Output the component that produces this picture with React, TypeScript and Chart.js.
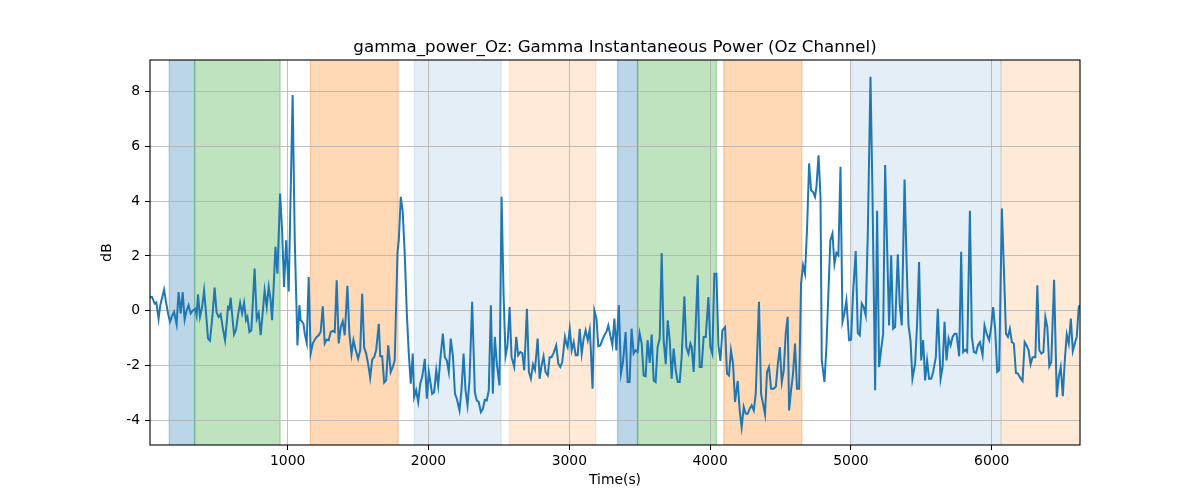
import React, { useEffect, useRef } from "react";
import { Chart, registerables } from "chart.js";

Chart.register(...registerables);

const TITLE = "gamma_power_Oz: Gamma Instantaneous Power (Oz Channel)";
const X_LABEL = "Time(s)";
const Y_LABEL = "dB";
const X_TICKS = [1000, 2000, 3000, 4000, 5000, 6000];
const Y_TICKS = [-4, -2, 0, 2, 4, 6, 8];
const Y_MIN = -4.91;
const Y_MAX = 9.16;

const TIMES = [
  22, 36, 55, 67, 83, 95, 122, 136, 150, 164, 178, 193, 211, 225, 240, 254, 268, 282, 296, 311, 325, 344, 353, 363, 377, 392, 406, 420, 434, 448, 467, 481, 495, 510, 524, 538, 555, 566, 576, 586, 595, 609, 619, 633, 647, 662, 676, 690, 704, 714, 728, 742,
  765, 780, 794, 808, 822, 836, 851, 865, 879, 889, 898, 913, 927, 946, 960, 974, 989, 1007, 1035, 1050, 1060, 1069, 1083, 1092, 1102, 1112, 1121, 1135, 1149, 1163, 1178, 1192, 1206, 1220, 1234, 1249, 1263, 1277, 1291, 1306, 1320, 1334, 1348, 1362, 1377, 1391, 1405, 1424, 1438, 1453, 1467, 1481,
  1500, 1515, 1529, 1543, 1557, 1571, 1586, 1600, 1614, 1628, 1647, 1657, 1671, 1685, 1699, 1714, 1732, 1746, 1760, 1780, 1789, 1803, 1817, 1831, 1846, 1860, 1874, 1888, 1898, 1912, 1927, 1941, 1955, 1974, 1988, 2002, 2026, 2040, 2055, 2069, 2083, 2102, 2116, 2130, 2144, 2158, 2174, 2188, 2201, 2220,
  2234, 2249, 2263, 2277, 2291, 2310, 2329, 2343, 2357, 2372, 2386, 2400, 2414, 2428, 2443, 2457, 2471, 2485, 2504, 2519, 2533, 2547, 2561, 2576, 2590, 2609, 2623, 2637, 2652, 2666, 2680, 2699, 2713, 2727, 2742, 2756, 2775, 2789, 2803, 2817, 2831, 2847, 2860, 2874, 2888, 2907, 2922, 2936, 2950, 2969,
  2979, 2988, 3003, 3017, 3031, 3045, 3059, 3074, 3088, 3102, 3116, 3131, 3145, 3153, 3165, 3178, 3193, 3206, 3220, 3234, 3249, 3263, 3277, 3291, 3306, 3320, 3334, 3352, 3367, 3381, 3400, 3414, 3428, 3442, 3457, 3471, 3485, 3499, 3514, 3528, 3542, 3556, 3571, 3585, 3599, 3613, 3627, 3642, 3656, 3670, 3685, 3699,
  3713, 3727, 3741, 3756, 3770, 3784, 3798, 3817, 3831, 3846, 3860, 3869, 3883, 3898, 3912, 3926, 3940, 3954, 3969, 3988, 4002, 4016, 4030, 4045, 4059, 4073, 4087, 4106, 4120, 4134, 4148, 4163, 4177, 4196, 4210, 4224, 4239, 4253, 4267, 4281, 4295, 4310, 4324, 4347, 4362, 4376, 4390, 4404, 4418, 4433,
  4452, 4467, 4480, 4495, 4509, 4523, 4537, 4551, 4561, 4575, 4589, 4603, 4617, 4632, 4646, 4660, 4674, 4689, 4703, 4717, 4731, 4745, 4755, 4770, 4784, 4793, 4812, 4826, 4840, 4854, 4869, 4883, 4897, 4911, 4926, 4940, 4954, 4968, 4987, 5001, 5015, 5034, 5049, 5063, 5077, 5091, 5105, 5120, 5139, 5153, 5172, 5186,
  5200, 5214, 5229, 5243, 5257, 5271, 5286, 5300, 5314, 5333, 5347, 5361, 5381, 5395, 5409, 5423, 5437, 5456, 5470, 5484, 5499, 5513, 5527, 5541, 5555, 5570, 5584, 5603, 5617, 5637, 5651, 5665, 5679, 5694, 5708, 5722, 5736, 5750, 5769, 5783, 5797, 5812, 5826, 5845, 5859, 5873, 5888, 5902, 5916,
  5935, 5949, 5964, 5982, 5996, 6010, 6025, 6039, 6053, 6072, 6086, 6101, 6115, 6129, 6143, 6157, 6172, 6186, 6200, 6219, 6234, 6248, 6262, 6276, 6290, 6310, 6324, 6338, 6352, 6367, 6381, 6395, 6409, 6423, 6443, 6462, 6476, 6490, 6505, 6519, 6533, 6547, 6562, 6576, 6590, 6604, 6618, 6627,
];

const VALUES = [
  0.5, 0.5, 0.26, 0.3, -0.3, 0.2, 0.77, 0.3, -0.1, -0.41, -0.2, -0.05, -0.5, 0.68, -0.1, 0.68, -0.33, 0.0, 0.2, -0.1, 0.0, 0.07, -0.17, 0.6, -0.23, 0.13, 0.74, -0.1, -1.02, -1.1, -0.1, 0.84, -0.07, -0.23, -0.13, -0.6, -1.08, -0.48, 0.13, 0.07, 0.48, -0.35, -0.87, -0.7, -0.17, 0.28, -0.1, 0.29, -0.35, -0.23, -0.78, -0.72,
  1.54, -0.3, -0.1, -0.9, -0.1, 0.74, 0.13, 0.87, 0.38, -0.35, 0.62, 2.33, 1.35, 4.28, 2.94, 0.87, 2.57, 0.7, 7.88, 2.57, 0.62, -1.27, 0.2, -0.35, -0.41, -0.48, -0.84, -1.18, 1.23, -1.57, -1.2, -1.06, -0.96, -0.9, -0.78, 0.16, -1.2, -1.06, -1.08, -0.78, -0.74, -0.78, 1.11, -1.2, -0.6, -0.39, -0.9, 0.91, -0.84, -1.6, -1.08, -1.4,
  -1.76, -1.45, 0.62, -1.35, -1.57, -1.94, -2.45, -1.79, -1.7, -1.45, -0.48, -1.67, -1.67, -2.63, -2.55, -1.27, -2.24, -2.06, -1.82, 2.15, 2.57, 4.16, 3.61, 2.09, -0.1, -1.57, -2.67, -1.57, -3.16, -2.91, -3.34, -2.67, -2.43, -1.76, -3.22, -2.24, -3.04, -2.98, -2.18, -2.73, -1.82, -0.84, -1.7, -1.82, -2.24, -1.02, -1.7, -3.04, -3.22, -3.65,
  -2.91, -1.57, -2.91, -3.46, -2.55, 0.32, -2.98, -3.28, -3.34, -3.71, -3.59, -3.26, -3.28, -2.91, 0.2, -3.04, -0.96, -1.94, -2.73, 4.16, 0.62, -1.67, -1.27, 0.13, -1.7, -2.06, -0.96, -1.63, -1.51, -1.55, -2.18, 0.07, -2.24, -2.49, -1.96, -2.16, -1.02, -2.49, -2.0, -1.67, -2.24, -2.37, -1.7, -1.7, -1.55, -1.27, -1.94, -2.06, -1.88, -0.96,
  -1.2, -1.33, -0.66, -1.45, -1.15, -1.63, -1.63, -0.66, -1.57, -1.02, -0.72, -1.08, -0.7, -1.45, -2.85, 0.01, -0.29, -1.3, -1.27, -1.08, -0.9, -0.78, -0.54, -0.9, -1.27, -0.29, -1.45, 0.2, -2.3, -1.88, -0.78, -2.61, -2.61, -0.66, -1.57, -1.45, -1.51, -0.82, -1.2, -2.37, -2.4, -1.08, -1.91, -0.87, -2.55, -2.61, -1.33, -1.02, 2.11, -1.08, -1.96, -0.35,
  -1.08, -2.49, -1.39, -2.18, -2.61, -2.61, -1.7, 0.52, -1.33, -1.57, -1.2, -1.33, -2.24, -0.48, 1.29, -2.06, -2.06, -0.96, -0.96, 0.5, -1.33, -1.57, 1.35, 1.35, -1.27, -1.84, -0.72, -0.6, -2.3, -2.37, -1.45, -1.94, -3.34, -2.57, -3.65, -4.26, -3.52, -3.77, -3.77, -3.59, -3.46, -3.65, -3.04, 0.32, -3.04, -3.4, -3.79, -2.24, -2.06, -2.85,
  -2.85, -2.77, -2.0, -1.33, -2.61, -2.18, -0.84, -0.23, -3.65, -2.91, -2.3, -1.2, -2.85, -2.85, 0.99, 1.66, 1.35, 3.06, 5.38, 4.4, 4.34, 4.16, 4.52, 5.68, 4.16, -1.82, -2.61, -1.33, 0.62, 2.57, 2.82, 1.7, 2.11, 2.02, 5.26, -0.41, -0.1, 0.38, -1.08, -1.06, 0.62, 2.18, -0.82, -0.9, 0.26, 0.13, -0.17, 2.82, 8.55, 4.28, -2.91, 3.65,
  -2.06, -1.45, -0.84, 5.32, 2.33, -0.54, 2.02, -0.66, -0.6, 2.06, 0.2, -0.54, 4.79, 1.84, -0.54, -1.08, -2.49, -1.94, -0.48, 1.78, -1.82, -1.08, -2.55, -1.82, -2.49, -2.49, -2.24, -1.7, 0.07, -2.49, -2.06, -0.41, -1.82, -1.02, -1.27, -0.96, -0.84, -0.84, -1.67, 2.15, -1.51, -1.43, -1.51, 3.65, -0.96, -1.51, -1.55, -1.27, -1.15,
  -1.63, -0.54, -0.84, -1.08, -0.6, 0.13, -0.72, -2.24, -2.18, 3.73, 1.6, -0.84, -0.96, -0.66, -1.15, -1.2, -2.28, -2.3, -2.43, -2.57, -1.15, -1.27, -1.45, -1.96, -1.7, -1.7, 0.93, -1.45, -1.57, -1.51, -0.23, -0.6, -2.04, -1.88, 1.13, -3.16, -2.43, -2.06, -3.13, -1.82, -0.87, -1.2, -0.29, -1.48, -1.2, -0.96, 0.13, 0.2,
];

const SPAN_STARTS = [159, 339, 1161, 1900, 2576, 3343, 3485, 4097, 5006, 6067];
const SPAN_ENDS = [339, 946, 1784, 2516, 3187, 3485, 4045, 4651, 6067, 6700];
const SPAN_COLORS = [
  "rgba(31,119,180,0.3)",
  "rgba(44,160,44,0.3)",
  "rgba(255,127,14,0.3)",
  "rgba(31,119,180,0.12)",
  "rgba(255,127,14,0.16)",
  "rgba(31,119,180,0.3)",
  "rgba(44,160,44,0.3)",
  "rgba(255,127,14,0.3)",
  "rgba(31,119,180,0.12)",
  "rgba(255,127,14,0.16)",
];

const FONT = "'DejaVu Sans', sans-serif";

const spansPlugin = {
  id: "spans",
  beforeDraw(chart: any) {
    const { ctx, chartArea, scales } = chart;
    const x = scales.x;
    const h = chartArea.bottom - chartArea.top;
    ctx.save();
    ctx.beginPath();
    ctx.rect(chartArea.left, chartArea.top, chartArea.right - chartArea.left, h);
    ctx.clip();
    SPAN_STARTS.forEach((s, i) => {
      const x0 = x.getPixelForValue(s);
      const x1 = x.getPixelForValue(SPAN_ENDS[i]);
      ctx.fillStyle = SPAN_COLORS[i];
      ctx.fillRect(x0, chartArea.top, x1 - x0, h);
      ctx.strokeStyle = SPAN_COLORS[i];
      ctx.lineWidth = 1.4;
      ctx.beginPath();
      ctx.moveTo(x0, chartArea.top);
      ctx.lineTo(x0, chartArea.bottom);
      ctx.moveTo(x1, chartArea.top);
      ctx.lineTo(x1, chartArea.bottom);
      ctx.stroke();
    });
    ctx.restore();
  },
  afterDraw(chart: any) {
    const { ctx, chartArea } = chart;
    ctx.save();
    ctx.strokeStyle = "#000";
    ctx.lineWidth = 1.1;
    ctx.strokeRect(
      chartArea.left,
      chartArea.top,
      chartArea.right - chartArea.left,
      chartArea.bottom - chartArea.top
    );
    ctx.fillStyle = "#000";
    ctx.font = `16.67px ${FONT}`;
    ctx.textAlign = "center";
    ctx.textBaseline = "alphabetic";
    ctx.fillText(TITLE, (chartArea.left + chartArea.right) / 2, chartArea.top - 8.3);
    ctx.restore();
  },
};

export default function App() {
  const ref = useRef<HTMLCanvasElement | null>(null);

  useEffect(() => {
    if (!ref.current) return;
    const data = TIMES.map((t, i) => ({ x: t, y: VALUES[i] }));
    const chart = new Chart(ref.current, {
      type: "line",
      data: {
        datasets: [
          {
            data,
            borderColor: "#1f77b4",
            borderWidth: 2,
            pointRadius: 0,
            tension: 0,
            fill: false,
          },
        ],
      },
      options: {
        responsive: false,
        animation: false,
        events: [],
        layout: { padding: { top: 60, right: 120, bottom: 0, left: 0 } },
        plugins: {
          legend: { display: false },
          tooltip: { enabled: false },
          title: { display: false },
        },
        scales: {
          x: {
            type: "linear",
            min: TIMES[0],
            max: TIMES[TIMES.length - 1],
            afterBuildTicks: (s: any) => {
              s.ticks = X_TICKS.map((v) => ({ value: v }));
            },
            afterFit: (s: any) => {
              s.height = 55;
            },
            ticks: {
              font: { family: FONT, size: 13.9 },
              color: "#000",
              padding: 3,
              maxRotation: 0,
              autoSkip: false,
              callback: (v: any) => String(v),
            },
            grid: {
              color: "#b0b0b0",
              lineWidth: 0.8,
              tickColor: "#000",
              tickLength: 5,
              tickWidth: 1,
            },
            border: { display: false },
            title: {
              display: true,
              text: X_LABEL,
              color: "#000",
              font: { family: FONT, size: 13.9 },
              padding: { top: 0, bottom: 11.2 },
            },
          },
          y: {
            type: "linear",
            min: Y_MIN,
            max: Y_MAX,
            afterBuildTicks: (s: any) => {
              s.ticks = Y_TICKS.map((v) => ({ value: v }));
            },
            afterFit: (s: any) => {
              s.width = 150;
            },
            ticks: {
              font: { family: FONT, size: 13.9 },
              color: "#000",
              padding: 5,
              autoSkip: false,
              callback: (v: any) => String(v),
            },
            grid: {
              color: "#b0b0b0",
              lineWidth: 0.8,
              tickColor: "#000",
              tickLength: 5,
              tickWidth: 1,
            },
            border: { display: false },
            title: {
              display: true,
              text: Y_LABEL,
              color: "#000",
              font: { family: FONT, size: 13.9 },
              padding: { top: 98.7, bottom: 0 },
            },
          },
        },
      },
      plugins: [spansPlugin],
    });
    return () => chart.destroy();
  }, []);

  return (
    <div style={{ position: "absolute", left: 0, top: 0, width: 1200, height: 500, background: "#fff" }}>
      <canvas ref={ref} width={1200} height={500} style={{ display: "block" }} />
    </div>
  );
}
